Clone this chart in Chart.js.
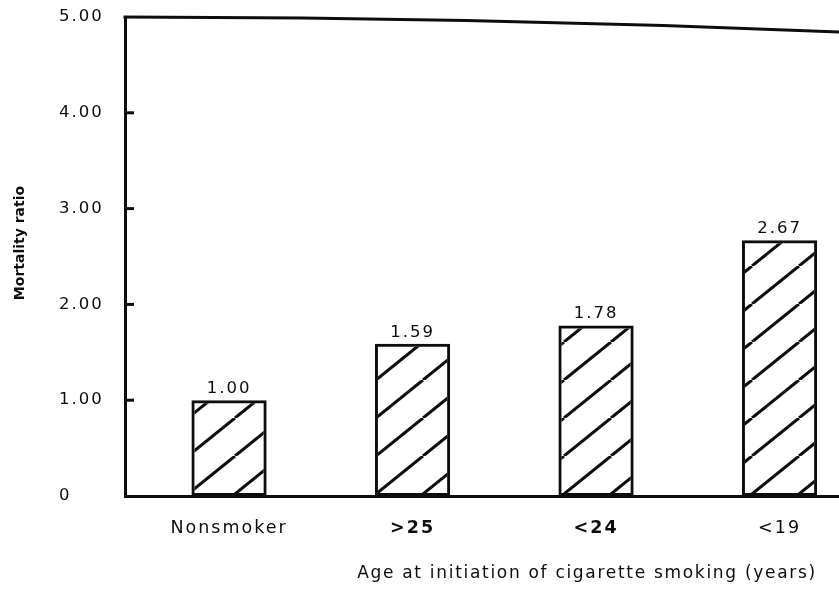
<!DOCTYPE html>
<html>
<head>
<meta charset="utf-8">
<script src="https://cdn.jsdelivr.net/npm/chart.js@4"></script>
<style>
  html, body { margin: 0; padding: 0; background: #fff; overflow: hidden; }
  #wrap { width: 839px; height: 590px; position: relative; }
</style>
</head>
<body>
<div id="wrap"><canvas id="chart"></canvas></div>
<script>
'use strict';

// ─── Data ─────────────────────────────────────────────────────────────────────
const categories = ['Nonsmoker', '>25', '<24', '<19'];
const mortality  = [1.00, 1.59, 1.78, 2.67];
const yTicks     = [0, 1, 2, 3, 4, 5];
const yTitle     = 'Mortality ratio';
const xTitle     = 'Age at initiation of cigarette smoking (years)';

const INK  = '#0d0d0d';
const FONT = "'DejaVu Sans', sans-serif";

// ─── Hatch fill ( / lines ) ───────────────────────────────────────────────────
function makeHatch() {
  const w = 47, h = 38;
  const c = document.createElement('canvas');
  c.width = w; c.height = h;
  const g = c.getContext('2d');
  g.strokeStyle = INK;
  g.lineWidth = 3;
  for (const dx of [-w, 0, w]) {
    g.beginPath();
    g.moveTo(dx, h);
    g.lineTo(dx + w, 0);
    g.stroke();
  }
  return g.createPattern(c, 'repeat');
}

// ─── Extra drawing: value labels, inner ticks, top frame, axis titles ────────
const decor = {
  id: 'decor',
  beforeLayout(chart) { chart.ctx.letterSpacing = '2px'; },
  beforeDraw(chart)   { chart.ctx.letterSpacing = '2px'; },
  afterDatasetsDraw(chart) {
    const ctx = chart.ctx;
    const meta = chart.getDatasetMeta(0);
    ctx.save();
    ctx.letterSpacing = '2px';
    ctx.fillStyle = INK;
    ctx.font = `16.5px ${FONT}`;
    ctx.textAlign = 'center';
    ctx.textBaseline = 'alphabetic';
    meta.data.forEach((bar, i) => {
      ctx.fillText(mortality[i].toFixed(2), bar.x, bar.y - 7);
    });
    ctx.restore();
  },
  afterDraw(chart) {
    const ctx = chart.ctx;
    const { left, top } = chart.chartArea;
    const y = chart.scales.y;
    ctx.save();
    ctx.strokeStyle = INK;
    ctx.lineWidth = 3;

    // short inward tick marks
    yTicks.filter(v => v > 0 && v < 5).forEach(v => {
      const py = y.getPixelForValue(v);
      ctx.beginPath();
      ctx.moveTo(left, py);
      ctx.lineTo(left + 9, py);
      ctx.stroke();
    });

    // top frame line (slightly bowed, as scanned)
    ctx.beginPath();
    ctx.moveTo(left - 1.5, top);
    ctx.quadraticCurveTo(482, top, chart.width, top + 15);
    ctx.stroke();

    // axis titles
    ctx.fillStyle = INK;
    ctx.textAlign = 'center';
    ctx.textBaseline = 'middle';
    ctx.letterSpacing = '1.7px';
    ctx.font = `17px ${FONT}`;
    ctx.fillText(xTitle, 587, 574);

    ctx.letterSpacing = '0px';
    ctx.font = `bold 14px ${FONT}`;
    ctx.translate(20, 243);
    ctx.rotate(-Math.PI / 2);
    ctx.fillText(yTitle, 0, 0);
    ctx.restore();
  }
};

// ─── Chart ────────────────────────────────────────────────────────────────────
new Chart(document.getElementById('chart'), {
  type: 'bar',
  data: {
    datasets: [{
      data: mortality.map((v, i) => ({ x: i, y: v })),
      backgroundColor: makeHatch(),
      borderColor: INK,
      borderWidth: 3,
      borderSkipped: false,
      barPercentage: 0.41,
      categoryPercentage: 1,
    }]
  },
  options: {
    responsive: true,
    maintainAspectRatio: false,
    animation: false,
    layout: { padding: { left: 59, top: 17, right: 0, bottom: 0 } },
    plugins: { legend: { display: false }, tooltip: { enabled: false } },
    scales: {
      x: {
        type: 'linear',
        min: -0.567, max: 3.324,
        offset: false,
        afterBuildTicks: s => { s.ticks = categories.map((_, i) => ({ value: i })); },
        afterFit: s => { s.height = 94; },
        grid: { display: false, drawTicks: false },
        border: { display: true, color: INK, width: 3 },
        ticks: {
          color: INK,
          padding: 22,
          autoSkip: false,
          maxRotation: 0,
          font: c => ({ family: FONT, size: 17.5, weight: (c.index === 1 || c.index === 2) ? 'bold' : 'normal' }),
          callback: v => categories[v],
        }
      },
      y: {
        min: 0, max: 5,
        afterBuildTicks: s => { s.ticks = yTicks.map(v => ({ value: v })); },
        afterFit: s => { s.width = 66; },
        grid: { display: false, drawTicks: false },
        border: { display: true, color: INK, width: 3 },
        ticks: {
          color: INK,
          crossAlign: 'far',
          font: { family: FONT, size: 16.5 },
          callback: v => v === 0 ? '0' : v.toFixed(2),
        }
      }
    }
  },
  plugins: [decor]
});
</script>
</body>
</html>
